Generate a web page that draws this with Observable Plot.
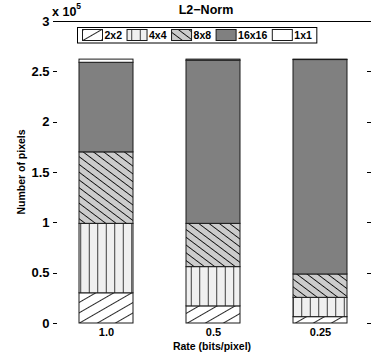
<!DOCTYPE html>
<html><head><meta charset="utf-8">
<script src="https://cdn.jsdelivr.net/npm/d3@7"></script>
<script src="https://cdn.jsdelivr.net/npm/@observablehq/plot@0.6"></script>
<style>
body{margin:0;background:#fff;}
#chart{position:relative;width:371px;height:360px;overflow:hidden;}
#chart svg{font-family:"Liberation Sans",Arial,sans-serif;}
</style></head><body><div id="chart"></div>
<script>
const title = "L2−Norm";
const rates = ["1.0", "0.5", "0.25"];
const series = ["2x2", "4x4", "8x8", "16x16", "1x1"];
const values2x2 = [30000, 17000, 6300];
const values4x4 = [69000, 39000, 19200];
const values8x8 = [71000, 43000, 23200];
const values16x16 = [89000, 162000, 213000];
const values1x1 = [3144, 1144, 444];
const yTicks = [0, 50000, 100000, 150000, 200000, 250000, 300000];
const yTickLabels = ["0", "0.5", "1", "1.5", "2", "2.5", "3"];
const xLabel = "Rate (bits/pixel)";
const yLabel = "Number of pixels";

const valueLists = [values2x2, values4x4, values8x8, values16x16, values1x1];
const fills = ["url(#p2x2)", "url(#p4x4)", "url(#p8x8)", "#808080", "#ffffff"];
const data = [];
series.forEach((s, i) => rates.forEach((r, j) => data.push({rate: r, size: s, count: valueLists[i][j]})));

const plot = Plot.plot({
  width: 371, height: 360,
  marginLeft: 53, marginRight: 0, marginTop: 21, marginBottom: 37,
  style: {background: "#fff", color: "#000", fontFamily: "'Liberation Sans', Arial, sans-serif"},
  x: {domain: rates, range: [51.25, 374], paddingInner: 0.5, paddingOuter: 0.25, label: null},
  y: {domain: [0, 300000], range: [323, 21], label: null},
  color: {type: "ordinal", domain: series, range: fills},
  marks: [
    Plot.barY(data, {x: "rate", y: "count", fill: "size", order: series, stroke: "#1a1a1a", strokeWidth: 1}),
    Plot.ruleY([300000], {stroke: "#000", strokeWidth: 1}),
    Plot.axisY({ticks: yTicks, tickFormat: (d) => yTickLabels[yTicks.indexOf(d)], tickSize: 0, tickPadding: 4, fontSize: 13, fontWeight: "bold", line: true, label: null}),
    Plot.axisX({tickSize: 0, tickPadding: 5, fontSize: 11, fontWeight: "bold", line: true, label: null})
  ]
});
document.getElementById("chart").appendChild(plot);

const svg = d3.select(plot);
const yScale = plot.scale("y");
const defs = svg.insert("defs", ":first-child");
const p22 = defs.append("pattern").attr("id", "p2x2").attr("patternUnits", "userSpaceOnUse")
  .attr("width", 9).attr("height", 9).attr("patternTransform", "rotate(-30)");
p22.append("rect").attr("width", 9).attr("height", 9).attr("fill", "#fff");
p22.append("path").attr("d", "M-1,4.5H10").attr("stroke", "#111").attr("stroke-width", 0.9);
const p44 = defs.append("pattern").attr("id", "p4x4").attr("patternUnits", "userSpaceOnUse")
  .attr("width", 8.5).attr("height", 10);
p44.append("rect").attr("width", 8.5).attr("height", 10).attr("fill", "#f0f0f0");
p44.append("path").attr("d", "M4.25,-1V11").attr("stroke", "#333").attr("stroke-width", 1);
const p88 = defs.append("pattern").attr("id", "p8x8").attr("patternUnits", "userSpaceOnUse")
  .attr("width", 6.2).attr("height", 6.2).attr("patternTransform", "rotate(37)");
p88.append("rect").attr("width", 6.2).attr("height", 6.2).attr("fill", "#cccccc");
p88.append("path").attr("d", "M-1,3.1H8").attr("stroke", "#111").attr("stroke-width", 0.9);

// inward ticks (left and right), positioned with Plot's y scale
const tg = svg.append("g").attr("stroke", "#000").attr("stroke-width", 1);
yTicks.forEach((v) => {
  const py = Math.round(yScale.apply(v)) + 0.5;
  tg.append("path").attr("d", `M53,${py}H57`);
  tg.append("path").attr("d", `M367,${py}H371`);
});

const ff = "'Liberation Sans', Arial, sans-serif";
svg.append("text").attr("x", 206).attr("y", 14).attr("text-anchor", "middle")
  .attr("font-family", ff).attr("font-size", 12.5).attr("font-weight", "bold").text(title);
const ex = svg.append("text").attr("x", 52).attr("y", 16).attr("text-anchor", "start")
  .attr("font-family", ff).attr("font-weight", "bold").attr("font-size", 12.5);
ex.append("tspan").text("x 10");
ex.append("tspan").attr("font-size", 8.5).attr("dy", -7).text("5");
svg.append("text").attr("transform", "translate(25,172) rotate(-90)").attr("text-anchor", "middle")
  .attr("font-family", ff).attr("font-size", 10.5).attr("font-weight", "bold").text(yLabel);
svg.append("text").attr("x", 212).attr("y", 350).attr("text-anchor", "middle")
  .attr("font-family", ff).attr("font-size", 10.5).attr("font-weight", "bold").text(xLabel);

// legend
const lg = svg.append("g");
const box = lg.append("rect").attr("x", 77.5).attr("y", 27.5).attr("height", 15.5).attr("fill", "#fff").attr("stroke", "#000").attr("stroke-width", 1);
let lx = 82;
series.forEach((s, i) => {
  lg.append("rect").attr("x", lx + 0.5).attr("y", 29.5).attr("width", 20).attr("height", 11)
    .attr("fill", fills[i]).attr("stroke", "#1a1a1a").attr("stroke-width", 1);
  const t = lg.append("text").attr("x", lx + 22.5).attr("y", 39.2).attr("text-anchor", "start")
    .attr("font-family", ff).attr("font-size", 10.5).attr("font-weight", "bold").text(s);
  const w = t.node().getComputedTextLength();
  lx = lx + 22.5 + w + (i < series.length - 1 ? 4.5 : 0);
});
box.attr("width", lx + 5 - 77.5);
</script></body></html>
